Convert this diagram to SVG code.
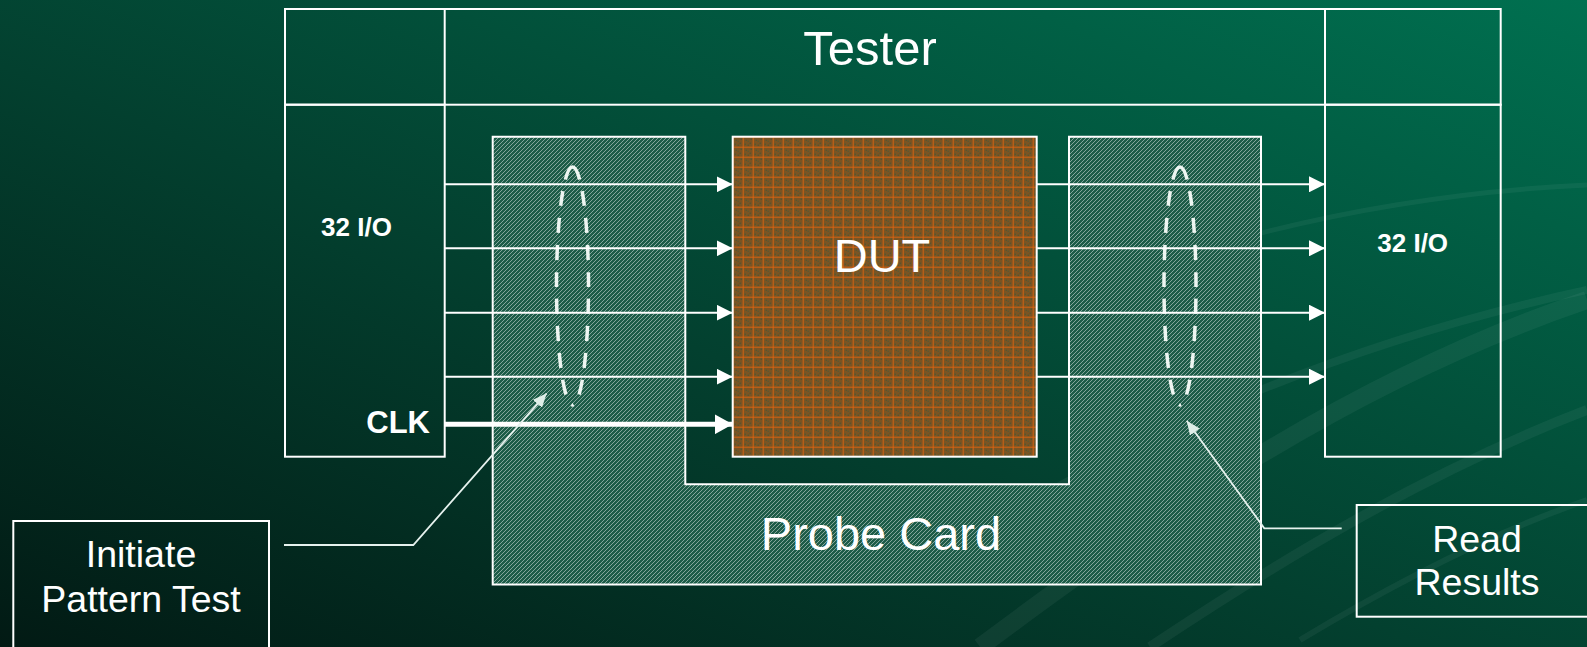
<svg xmlns="http://www.w3.org/2000/svg" width="1587" height="647" viewBox="0 0 1587 647">
<defs>
<linearGradient id="bg" x1="0" y1="1" x2="1" y2="0">
<stop offset="0" stop-color="#021a14"/>
<stop offset="0.45" stop-color="#03402f"/>
<stop offset="1" stop-color="#007050"/>
</linearGradient>
<pattern id="hatch" width="4" height="4" patternUnits="userSpaceOnUse">
<rect width="4" height="4" fill="#1d5c48"/>
<path d="M-1,1 L1,-1 M0,4 L4,0 M3,5 L5,3" stroke="#ffffff" stroke-opacity="0.45" stroke-width="1"/>
</pattern>
<pattern id="grid" width="10" height="10" patternUnits="userSpaceOnUse" x="732.7" y="136.7">
<rect width="10" height="10" fill="#7a5424"/>
<rect x="3" y="3" width="1" height="1" fill="#2f5a3c"/>
<rect x="7" y="6" width="1" height="1" fill="#2f5a3c"/>
<rect x="5" y="8" width="1" height="1" fill="#2f5a3c"/>
<rect x="2" y="7" width="1" height="1" fill="#2f5a3c"/>
<rect x="8" y="2" width="1" height="1" fill="#2f5a3c"/>
<rect x="5" y="4" width="1" height="1" fill="#3a6040"/>
<path d="M0.5,0 V10 M0,0.5 H10" stroke="#e0640e" stroke-opacity="0.85" stroke-width="1"/>
</pattern>
<marker id="ah" viewBox="0 0 16 16" refX="16" refY="8" markerWidth="16" markerHeight="16" markerUnits="userSpaceOnUse" orient="auto">
<path d="M0,0 L16,8 L0,16 Z" fill="#ffffff"/>
</marker>
<marker id="ahBig" viewBox="0 0 18 20" refX="18" refY="10" markerWidth="18" markerHeight="20" markerUnits="userSpaceOnUse" orient="auto">
<path d="M0,0 L18,10 L0,20 Z" fill="#ffffff"/>
</marker>
<marker id="ahSmall" viewBox="0 0 14 12" refX="14" refY="6" markerWidth="14" markerHeight="12" markerUnits="userSpaceOnUse" orient="auto">
<path d="M0,0 L14,6 L0,12 Z" fill="#dfeee8"/>
</marker>
<style>
.frame{fill:none;stroke:#ffffff;stroke-width:2}
.lbl{font-family:"Liberation Sans",Arial,sans-serif;fill:#ffffff}
.big{font-size:47px}
.mid{font-size:37.5px}
.bold{font-weight:bold}
.sig{stroke:#ffffff;stroke-width:2;fill:none;marker-end:url(#ah)}
.clk{stroke:#ffffff;stroke-width:5;fill:none;marker-end:url(#ahBig)}
.lead{stroke:#e6f2ee;stroke-width:1.8;fill:none;marker-end:url(#ahSmall)}
.grp{fill:none;stroke:#eef6f2;stroke-width:3.5;stroke-dasharray:15 12}
.swoosh{fill:none;stroke:#ffffff;stroke-opacity:0.05}
</style>
</defs>
<rect width="1587" height="647" fill="url(#bg)"/>
<g id="background-swooshes">
<path class="swoosh" stroke-width="18" d="M980,647 C1150,520 1350,380 1587,300"/>
<path class="swoosh" stroke-width="10" d="M1150,647 C1280,560 1430,470 1587,410"/>
<path class="swoosh" stroke-width="8" d="M1000,520 C1200,400 1400,330 1587,290"/>
<path class="swoosh" stroke-width="6" d="M1300,640 C1400,580 1500,530 1587,500"/>
<path class="swoosh" stroke-width="5" d="M1200,250 C1350,205 1480,190 1587,185"/>
</g>
<g id="tester">
<rect class="frame" x="285" y="9" width="1215.7" height="95.7"/>
<line class="frame" x1="444.7" y1="9" x2="444.7" y2="104.7"/>
<line class="frame" x1="1325" y1="9" x2="1325" y2="104.7"/>
<text class="lbl" font-size="49" x="870" y="65" text-anchor="middle">Tester</text>
</g>
<g id="io-left">
<rect class="frame" x="285" y="104.7" width="159.7" height="352"/>
<text class="lbl bold" font-size="26" x="356.5" y="236" text-anchor="middle">32 I/O</text>
<text class="lbl bold" font-size="31" x="430" y="432.5" text-anchor="end">CLK</text>
</g>
<g id="io-right">
<rect class="frame" x="1325" y="104.7" width="175.7" height="352"/>
<text class="lbl bold" font-size="26" x="1412.7" y="252.3" text-anchor="middle">32 I/O</text>
</g>
<g id="probe-card">
<path d="M492.7,136.7 H685.3 V484.3 H1069 V136.7 H1261 V584.5 H492.7 Z" fill="url(#hatch)" stroke="#ffffff" stroke-width="2"/>
<text class="lbl big" x="881" y="550" text-anchor="middle">Probe Card</text>
<path class="grp" d="M572.5,167 A16,119 0 0 0 572.5,405 M572.5,167 A16,119 0 0 1 572.5,405"/>
<path class="grp" d="M1180,167 A16,119 0 0 0 1180,405 M1180,167 A16,119 0 0 1 1180,405"/>
</g>
<g id="dut">
<rect x="732.7" y="136.7" width="304" height="320" fill="url(#grid)" stroke="#ffffff" stroke-width="2"/>
<text class="lbl big" x="882" y="271.5" text-anchor="middle">DUT</text>
</g>
<g id="initiate">
<rect class="frame" x="13.3" y="521" width="255.7" height="140"/>
<text class="lbl mid" x="141" y="566.5" text-anchor="middle">Initiate</text>
<text class="lbl mid" x="141" y="611.5" text-anchor="middle">Pattern Test</text>
</g>
<g id="read-results">
<rect class="frame" x="1356.7" y="505" width="250" height="111.7"/>
<text class="lbl mid" x="1477" y="551.5" text-anchor="middle">Read</text>
<text class="lbl mid" x="1477" y="595" text-anchor="middle">Results</text>
</g>
<g id="connectors">
<line class="sig" x1="444.7" y1="184.3" x2="732.7" y2="184.3"/>
<line class="sig" x1="444.7" y1="248.3" x2="732.7" y2="248.3"/>
<line class="sig" x1="444.7" y1="312.7" x2="732.7" y2="312.7"/>
<line class="sig" x1="444.7" y1="376.7" x2="732.7" y2="376.7"/>
<line class="clk" x1="444.7" y1="424.3" x2="732.7" y2="424.3"/>
<line class="sig" x1="1036.7" y1="184.3" x2="1325" y2="184.3"/>
<line class="sig" x1="1036.7" y1="248.3" x2="1325" y2="248.3"/>
<line class="sig" x1="1036.7" y1="312.7" x2="1325" y2="312.7"/>
<line class="sig" x1="1036.7" y1="376.7" x2="1325" y2="376.7"/>
<polyline class="lead" points="284,545 413.3,545 546.7,393.3"/>
<polyline class="lead" points="1341.7,528.3 1264.3,528.3 1186.7,420.7"/>
</g>
</svg>
